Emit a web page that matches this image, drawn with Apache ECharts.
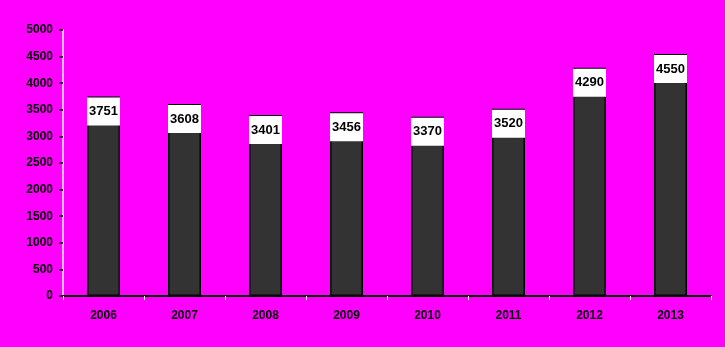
<!DOCTYPE html>
<html>
<head>
<meta charset="utf-8">
<script src="https://cdn.jsdelivr.net/npm/echarts@6/dist/echarts.min.js"></script>
<style>
html,body{margin:0;padding:0;background:#ff00ff;}
#c{width:725px;height:347px;}
</style>
</head>
<body>
<div id="c"></div>
<script>
var categories = ['2006','2007','2008','2009','2010','2011','2012','2013'];
var values = [3751, 3608, 3401, 3456, 3370, 3520, 4290, 4550];
var yMin = 0, yMax = 5000, yStep = 500;

var shadowText = {
  color: '#000',
  fontWeight: 'bold',
  fontSize: 12,
  fontFamily: 'Arial, "Liberation Sans", sans-serif',
  textShadowColor: '#fff',
  textShadowOffsetX: -1,
  textShadowOffsetY: -1,
  textShadowBlur: 0
};

var chart = echarts.init(document.getElementById('c'));
chart.setOption({
  backgroundColor: '#ff00ff',
  animation: false,
  grid: {left: 63, right: 14, top: 30, bottom: 51, containLabel: false},
  xAxis: {
    type: 'category',
    data: categories,
    axisLine: {show: true, lineStyle: {color: '#000', width: 2}},
    axisTick: {show: true, alignWithLabel: false, length: 4, lineStyle: {color: '#fff', width: 1}},
    axisLabel: Object.assign({margin: 14}, shadowText),
    splitLine: {show: false}
  },
  yAxis: {
    type: 'value',
    min: yMin, max: yMax, interval: yStep,
    axisLine: {show: true, lineStyle: {color: '#fff', width: 1.5}},
    axisTick: {show: true, length: 4, lineStyle: {color: '#000', width: 1.5}},
    axisLabel: Object.assign({margin: 10, formatter: function (v) { return String(v); }}, shadowText),
    splitLine: {show: false}
  },
  series: [{
    type: 'bar',
    data: values,
    barWidth: 33,
    itemStyle: {color: '#333333', borderColor: '#000', borderWidth: 1.5},
    label: {
      show: true,
      position: 'insideTop',
      distance: 1,
      backgroundColor: '#fff',
      width: 33,
      height: 28,
      lineHeight: 28,
      align: 'center',
      color: '#000',
      fontWeight: 'bold',
      fontSize: 13,
      fontFamily: 'Arial, "Liberation Sans", sans-serif'
    }
  }]
});
</script>
</body>
</html>
